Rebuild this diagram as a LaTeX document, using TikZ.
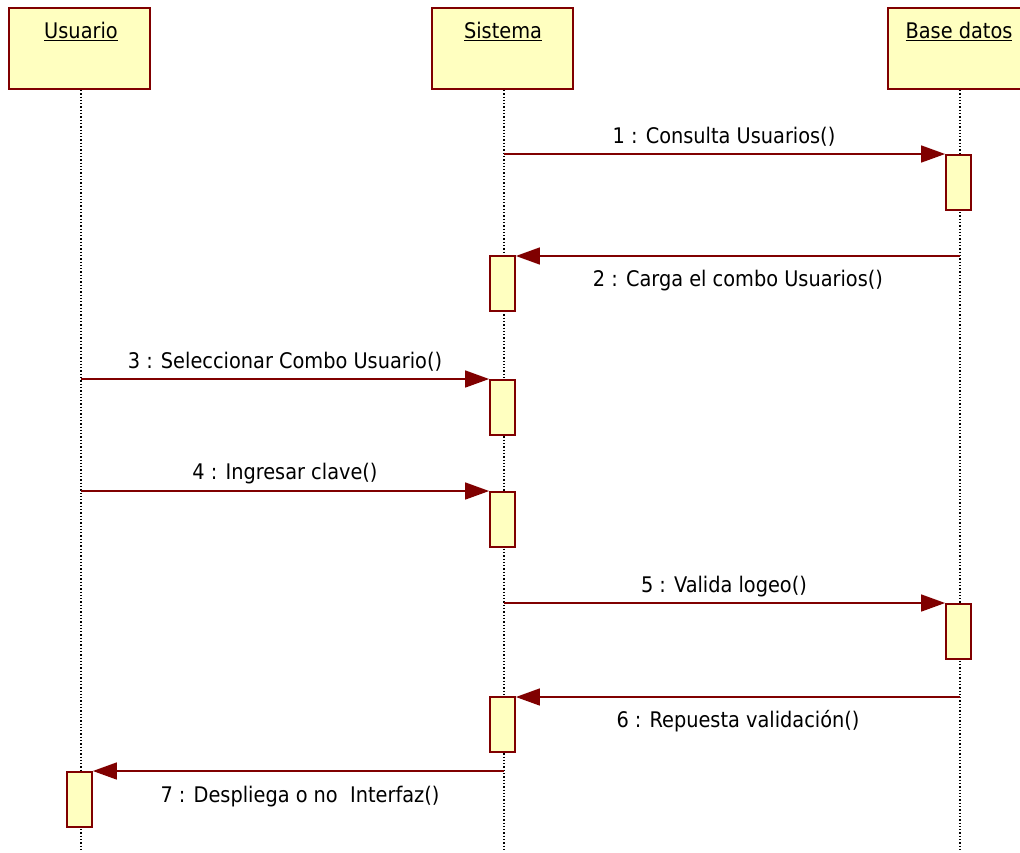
\documentclass[tikz,border=0pt]{standalone}
\usepackage{fontspec}
\setmainfont{DejaVu Sans Condensed}
\usetikzlibrary{arrows.meta}
\definecolor{umlred}{RGB}{128,0,0}
\definecolor{umlfill}{RGB}{255,255,192}
\begin{document}
\begin{tikzpicture}[x=1pt,y=-1pt,
  font=\fontsize{21.5}{25}\selectfont,
  header/.style={draw=umlred,fill=umlfill,line width=1.8pt,minimum width=141pt,minimum height=81pt,inner sep=0pt},
  lifeline/.style={dotted,line width=1.3pt,black},
  actbar/.style={draw=umlred,fill=umlfill,line width=1.8pt,minimum width=25pt,minimum height=55pt,inner sep=0pt,anchor=north},
  msg/.style={draw=umlred,line width=1.5pt,-{Triangle[length=24pt,width=17pt]}},
  lbl/.style={inner sep=0pt,anchor=base}]
\useasboundingbox (0,0) rectangle (1020,852);
\clip (0,0) rectangle (1020,852);

% object heads
\node[header] (usr) at (79.5,48.5) {};
\node[header] (sis) at (502.5,48.5) {};
\node[header] (bd)  at (958.5,48.5) {};
\node[lbl] at (81,38) {\underline{Usuario}};
\node[lbl] at (503,38) {\underline{Sistema}};
\node[lbl] at (959,38) {\underline{Base datos}};

% lifelines
\coordinate (usrend) at (81,852);
\coordinate (sisend) at (504,852);
\coordinate (bdend)  at (960,852);
\draw[lifeline] (usr.south -| usrend) -- (usrend);
\draw[lifeline] (sis.south -| sisend) -- (sisend);
\draw[lifeline] (bd.south -| bdend) -- (bdend);

% activation bars
\node[actbar] (a1) at (958.5,154) {};
\node[actbar] (a2) at (502.5,255) {};
\node[actbar] (a3) at (502.5,379) {};
\node[actbar] (a4) at (502.5,491) {};
\node[actbar] (a5) at (958.5,603) {};
\node[actbar] (a6) at (502.5,696) {};
\node[actbar] (a7) at (79.5,771) {};

% message source points on the lifelines
\coordinate (s1) at (504,154);
\coordinate (s2) at (960,256);
\coordinate (s3) at (81,379);
\coordinate (s4) at (81,491);
\coordinate (s5) at (504,603);
\coordinate (s6) at (960,697);
\coordinate (s7) at (504,771);

% messages
\draw[msg] (s1) -- (s1 -| a1.west);
\draw[msg] (s2) -- (s2 -| a2.east);
\draw[msg] (s3) -- (s3 -| a3.west);
\draw[msg] (s4) -- (s4 -| a4.west);
\draw[msg] (s5) -- (s5 -| a5.west);
\draw[msg] (s6) -- (s6 -| a6.east);
\draw[msg] (s7) -- (s7 -| a7.east);

% message labels
\node[lbl] (m1) at (724,143) {1 : Consulta Usuarios()};
\node[lbl] (m2) at (738,286) {2 : Carga el combo Usuarios()};
\node[lbl] (m3) at (285,368) {3 : Seleccionar Combo Usuario()};
\node[lbl] (m4) at (285,479) {4 : Ingresar clave()};
\node[lbl] (m5) at (724,592) {5 : Valida logeo()};
\node[lbl] (m6) at (738,727) {6 : Repuesta validación()};
\node[lbl] (m7) at (300,802) {7 : Despliega o no\ \ Interfaz()};
\end{tikzpicture}
\end{document}
